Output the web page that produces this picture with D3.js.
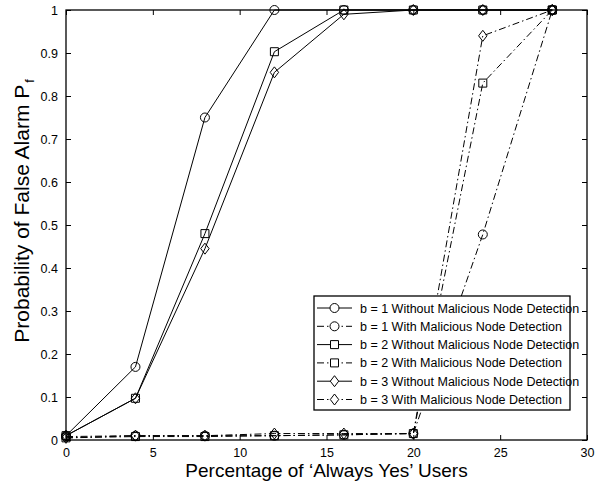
<!DOCTYPE html>
<html>
<head>
<meta charset="utf-8">
<script src="https://cdn.jsdelivr.net/npm/d3@7"></script>
<style>
  body { margin: 0; background: #fff; }
  svg { font-family: "Liberation Sans", Arial, sans-serif; }
</style>
</head>
<body>
<div id="chart"></div>
<script>
// Percentage of "always yes" users vs. false-alarm probability.

const xValues = [0, 4, 8, 12, 16, 20, 24, 28];
const xTicks = [0, 5, 10, 15, 20, 25, 30];
const yTicks = [0, 0.1, 0.2, 0.3, 0.4, 0.5, 0.6, 0.7, 0.8, 0.9, 1];

const b1Without = [0.01, 0.17, 0.75, 1, 1, 1, 1, 1];
const b1With = [0.008, 0.01, 0.01, 0.01, 0.012, 0.015, 0.478, 1];
const b2Without = [0.01, 0.097, 0.48, 0.903, 1, 1, 1, 1];
const b2With = [0.005, 0.008, 0.008, 0.01, 0.012, 0.015, 0.83, 1];
const b3Without = [0.01, 0.097, 0.445, 0.855, 0.99, 1, 1, 1];
const b3With = [0.005, 0.01, 0.01, 0.015, 0.015, 0.015, 0.94, 1];

const seriesLabels = [
  "b = 1 Without Malicious Node Detection",
  "b = 1 With Malicious Node Detection",
  "b = 2 Without Malicious Node Detection",
  "b = 2 With Malicious Node Detection",
  "b = 3 Without Malicious Node Detection",
  "b = 3 With Malicious Node Detection",
];

const series = [
  { label: seriesLabels[0], values: b1Without, marker: "circle", dashed: false },
  { label: seriesLabels[1], values: b1With, marker: "circle", dashed: true },
  { label: seriesLabels[2], values: b2Without, marker: "square", dashed: false },
  { label: seriesLabels[3], values: b2With, marker: "square", dashed: true },
  { label: seriesLabels[4], values: b3Without, marker: "diamond", dashed: false },
  { label: seriesLabels[5], values: b3With, marker: "diamond", dashed: true },
];

const W = 598, H = 483;
const M = { left: 66, right: 11, top: 10, bottom: 43 };
const DASH = "7 3 1.5 3";

const svg = d3.select("#chart").append("svg")
  .attr("width", W).attr("height", H);

const x = d3.scaleLinear().domain([0, 30]).range([M.left, W - M.right]);
const y = d3.scaleLinear().domain([0, 1]).range([H - M.bottom, M.top]);

function markerPath(kind, cx, cy) {
  if (kind === "square") {
    const s = 4;
    return `M ${cx - s},${cy - s} H ${cx + s} V ${cy + s} H ${cx - s} Z`;
  }
  if (kind === "diamond") {
    const s = 5.5;
    return `M ${cx},${cy - s} L ${cx + 4.2},${cy} L ${cx},${cy + s} L ${cx - 4.2},${cy} Z`;
  }
  const r = 4.5;
  return `M ${cx - r},${cy} a ${r},${r} 0 1,0 ${2 * r},0 a ${r},${r} 0 1,0 ${-2 * r},0`;
}

// ─── axes (MATLAB-style box with inward ticks) ───────────────────────
const tickLen = 5;
const axisBottom = d3.axisBottom(x).tickValues(xTicks).tickSize(-tickLen).tickPadding(8)
  .tickFormat(d3.format("d"));
const axisTop = d3.axisTop(x).tickValues(xTicks).tickSize(-tickLen).tickFormat("");
const axisLeft = d3.axisLeft(y).tickValues(yTicks).tickSize(-tickLen).tickPadding(8)
  .tickFormat((d) => (d === 0 || d === 1 ? String(d) : d3.format(".1f")(d)));
const axisRight = d3.axisRight(y).tickValues(yTicks).tickSize(-tickLen).tickFormat("");

function styleAxis(g) {
  g.select(".domain").remove();
  g.selectAll("line").attr("stroke", "#000").attr("stroke-width", 1);
  g.selectAll("text").attr("font-size", 12.5).attr("fill", "#000")
    .attr("font-family", "Liberation Sans, Arial, sans-serif");
}

svg.append("g").attr("transform", `translate(0,${y(0)})`).call(axisBottom).call(styleAxis);
svg.append("g").attr("transform", `translate(0,${y(1)})`).call(axisTop).call(styleAxis);
svg.append("g").attr("transform", `translate(${x(0)},0)`).call(axisLeft).call(styleAxis);
svg.append("g").attr("transform", `translate(${x(30)},0)`).call(axisRight).call(styleAxis);

svg.append("rect")
  .attr("x", x(0)).attr("y", y(1))
  .attr("width", x(30) - x(0)).attr("height", y(0) - y(1))
  .attr("fill", "none").attr("stroke", "#000").attr("stroke-width", 1.3);

// ─── axis labels ─────────────────────────────────────────────────────
svg.append("text")
  .attr("x", (x(0) + x(30)) / 2).attr("y", H - 6)
  .attr("text-anchor", "middle").attr("font-size", 19)
  .text("Percentage of \u2018Always Yes\u2019 Users");

const yLab = svg.append("text")
  .attr("transform", `translate(29,211) rotate(-90)`)
  .attr("text-anchor", "middle").attr("font-size", 21);
yLab.append("tspan").text("Probability of False Alarm P");
yLab.append("tspan").attr("dx", 2).attr("dy", 5).attr("font-size", 12.5).text("f");

// ─── series ──────────────────────────────────────────────────────────
const line = d3.line().x((d, i) => x(xValues[i])).y((d) => y(d));

const plot = svg.append("g");
series.forEach((s) => {
  plot.append("path")
    .attr("d", line(s.values))
    .attr("fill", "none").attr("stroke", "#000").attr("stroke-width", 1)
    .attr("stroke-dasharray", s.dashed ? DASH : null);
  plot.selectAll(null).data(s.values).join("path")
    .attr("d", (d, i) => markerPath(s.marker, x(xValues[i]), y(d)))
    .attr("fill", "none").attr("stroke", "#000").attr("stroke-width", 1);
});

// ─── legend ──────────────────────────────────────────────────────────
const lg = { x: 314, y: 296, w: 256, h: 114, row: 18.3 };
const legend = svg.append("g");
legend.append("rect")
  .attr("x", lg.x).attr("y", lg.y).attr("width", lg.w).attr("height", lg.h)
  .attr("fill", "#fff").attr("stroke", "#000").attr("stroke-width", 1.3);

series.forEach((s, i) => {
  const cy = lg.y + 12 + i * lg.row;
  legend.append("line")
    .attr("x1", lg.x + 3).attr("x2", lg.x + 38).attr("y1", cy).attr("y2", cy)
    .attr("stroke", "#000").attr("stroke-width", 1)
    .attr("stroke-dasharray", s.dashed ? DASH : null);
  legend.append("path")
    .attr("d", markerPath(s.marker, lg.x + 20.5, cy))
    .attr("fill", "#fff").attr("stroke", "#000").attr("stroke-width", 1);
  legend.append("text")
    .attr("x", lg.x + 46).attr("y", cy + 4.5)
    .attr("font-size", 12.5)
    .text(s.label);
});
</script>
</body>
</html>
